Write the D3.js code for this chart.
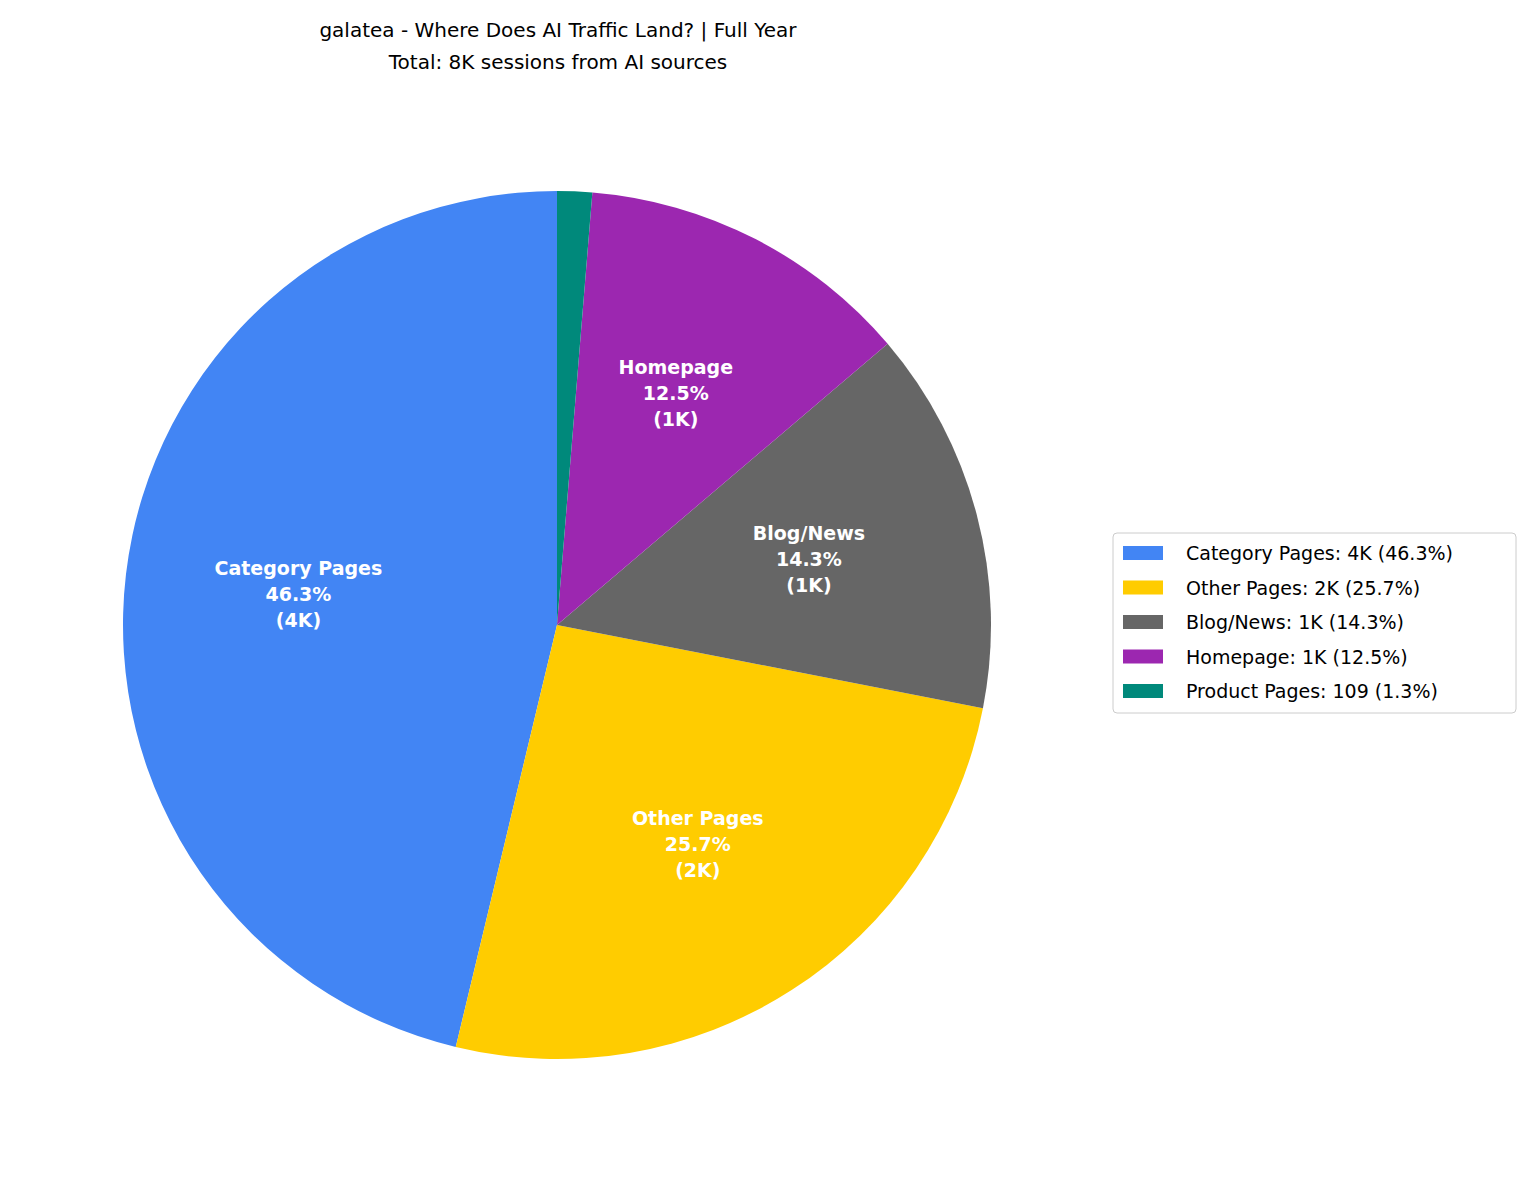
<!DOCTYPE html>
<html><head><meta charset="utf-8">
<script src="https://cdn.jsdelivr.net/npm/d3@7"></script>
<style>body{margin:0;background:#fff;font-family:"DejaVu Sans",sans-serif}</style>
</head><body><div id="chart"></div>
<script>
var categories = ["Category Pages", "Other Pages", "Blog/News", "Homepage", "Product Pages"]
var sessions = [3882, 2155, 1199, 1048, 109]
var shortLabels = ["4K", "2K", "1K", "1K", "109"]
var colors = ["#4285F4", "#FFCC00", "#666666", "#9C27B0", "#00897B"]

var width = 1531, height = 1183
var cx = 557, cy = 625, r = 434
var total = d3.sum(sessions)

var svg = d3.select("#chart").append("svg").attr("width", width).attr("height", height)

svg.append("text").attr("x", 558).attr("y", 37).attr("text-anchor", "middle")
    .style("font-size", "20px").text("galatea - Where Does AI Traffic Land? | Full Year")
svg.append("text").attr("x", 558).attr("y", 69).attr("text-anchor", "middle")
    .style("font-size", "20px").text("Total: 8K sessions from AI sources")

var data = categories.map(function (c, i) { return {name: c, value: sessions[i], i: i} })
// matplotlib style: start at top, go counterclockwise
var pie = d3.pie().value(function (d) { return d.value }).sort(null)
    .startAngle(0).endAngle(-2 * Math.PI)
var arc = d3.arc().innerRadius(0).outerRadius(r)
var labelArc = d3.arc().innerRadius(r * 0.6).outerRadius(r * 0.6)

var g = svg.append("g").attr("transform", "translate(" + cx + "," + cy + ")")
var arcs = pie(data)
g.selectAll("path").data(arcs).enter().append("path")
    .attr("d", arc).attr("fill", function (d) { return colors[d.data.i] })

arcs.forEach(function (d) {
    var pct = d.data.value / total * 100
    if (pct < 5) return
    var c = labelArc.centroid(d)
    var t = g.append("text").attr("text-anchor", "middle").attr("fill", "white")
        .style("font-size", "19px").style("font-weight", "bold")
    var lines = [d.data.name, pct.toFixed(1) + "%", "(" + shortLabels[d.data.i] + ")"]
    lines.forEach(function (l, k) {
        t.append("tspan").attr("x", c[0]).attr("y", c[1] + (k - 1) * 26 + 7).text(l)
    })
})

var leg = svg.append("g").attr("transform", "translate(1113,533)")
leg.append("rect").attr("width", 403).attr("height", 180).attr("rx", 4)
    .attr("fill", "white").attr("stroke", "#ccc")
data.forEach(function (d, i) {
    var y = 20 + i * 34.5
    leg.append("rect").attr("x", 10).attr("y", y - 7).attr("width", 40).attr("height", 14)
        .attr("fill", colors[i])
    leg.append("text").attr("x", 73).attr("y", y + 7).style("font-size", "19px")
        .text(d.name + ": " + shortLabels[i] + " (" + (d.value / total * 100).toFixed(1) + "%)")
})
</script></body></html>
